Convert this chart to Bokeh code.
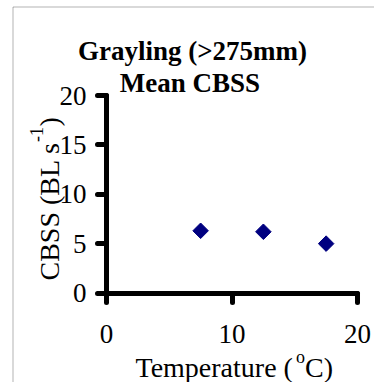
import math
from bokeh.plotting import figure
from bokeh.models import Label, BoxAnnotation, FixedTicker, Range1d
from bokeh.embed import file_html
from bokeh.resources import INLINE

# data
temperature = [7.5, 12.5, 17.5]
mean_cbss = [6.3, 6.2, 5.0]
x_ticks = [0, 10, 20]
y_ticks = [0, 5, 10, 15, 20]

FONT = "Liberation Serif"
W, H = 374, 382

# pixel layout of the axes (canvas pixels)
X0_PX, X20_PX = 106.0, 357.0
Y0_PX, Y20_PX = 292.5, 95.0
sx = (X20_PX - X0_PX) / 20.0
sy = (Y0_PX - Y20_PX) / 20.0

p = figure(width=W, height=H, output_backend="svg", toolbar_location=None,
           x_range=Range1d(-X0_PX / sx, (W - X0_PX) / sx),
           y_range=Range1d(-(H - Y0_PX) / sy, Y0_PX / sy),
           min_border_left=0, min_border_right=0, min_border_top=0, min_border_bottom=0)
p.title.visible = False
p.outline_line_color = None
p.grid.visible = False
p.background_fill_color = "white"
p.border_fill_color = "white"

p.scatter(temperature, mean_cbss, marker="square", angle=math.pi / 4, size=11,
          fill_color="#000080", line_color="#000080")

for ax in (p.xaxis[0], p.yaxis[0]):
    ax.fixed_location = 0
    ax.bounds = (0, 20)
    ax.axis_line_width = 5
    ax.axis_line_color = "black"
    ax.axis_line_cap = "round"
    ax.major_tick_line_width = 5
    ax.major_tick_line_color = "black"
    ax.major_tick_line_cap = "round"
    ax.major_tick_out = 9
    ax.major_tick_in = 0
    ax.minor_tick_line_color = None
    ax.major_label_text_font = FONT
    ax.major_label_text_font_size = "27px"
    ax.major_label_text_color = "black"

p.xaxis[0].ticker = FixedTicker(ticks=x_ticks)
p.yaxis[0].ticker = FixedTicker(ticks=y_ticks)
p.xaxis[0].major_label_standoff = 23
p.yaxis[0].major_label_standoff = 11

def lab(text, x, y, size, bold=False, angle=0.0, align="left"):
    p.add_layout(Label(text=text, x=x, y=y, x_units="canvas", y_units="canvas",
                       text_font=FONT, text_font_size=size,
                       text_font_style="bold" if bold else "normal",
                       text_align=align, text_baseline="alphabetic",
                       angle=angle, text_color="black"))

# title
lab("Grayling (>275mm)", 192, 50, "27px", bold=True, align="center")
lab("Mean CBSS", 189.5, 82, "27px", bold=True, align="center")

# x axis title
lab("Temperature (", 135, 366.7, "28px")
lab("o", 295.5, 356, "18px")
lab("C)", 304.5, 366.7, "28px")

# y axis title (rotated)
lab("CBSS (BL s", 49, 280, "28px", angle=math.pi / 2)
lab("-1", 36, 141.5, "18px", angle=math.pi / 2)
lab(")", 49, 126, "28px", angle=math.pi / 2)

# outer border (top and left)
p.add_layout(BoxAnnotation(left=12.5, top=6.5, right=3000, bottom=3000,
                           left_units="canvas", right_units="canvas",
                           top_units="canvas", bottom_units="canvas",
                           fill_alpha=0, line_color="black", line_width=1))

open("out.html", "w").write(file_html(p, INLINE))
